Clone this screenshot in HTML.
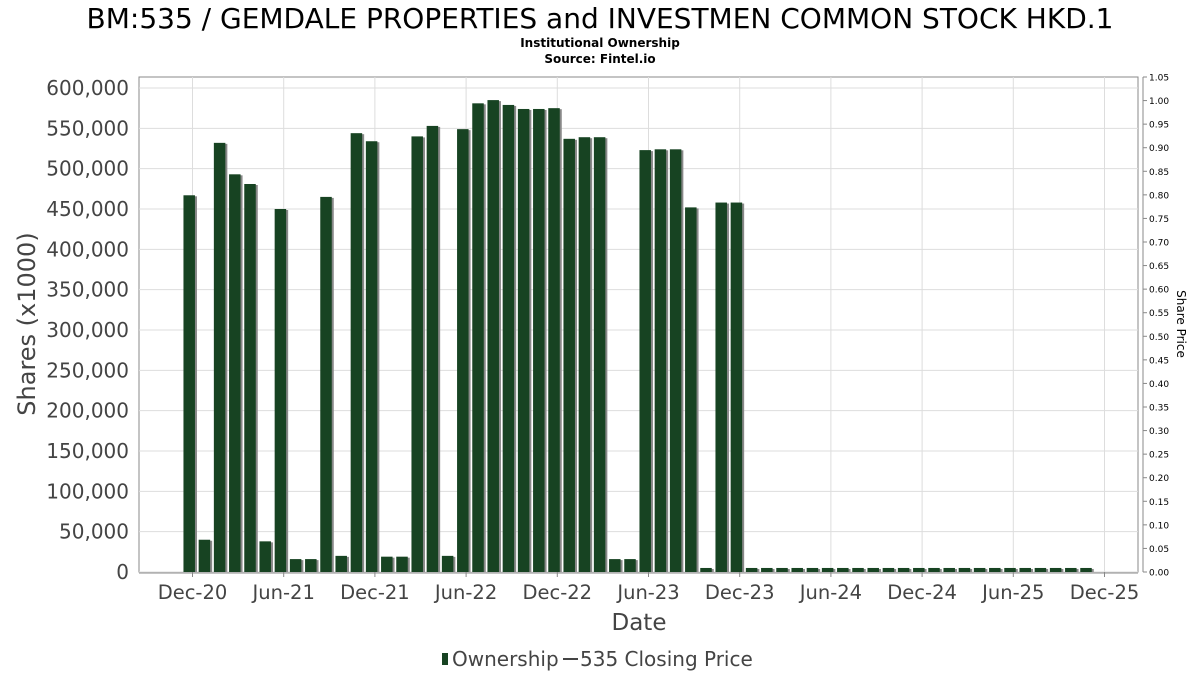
<!DOCTYPE html>
<html><head><meta charset="utf-8"><style>
body{margin:0;background:#fff;font-family:"DejaVu Sans","Liberation Sans",sans-serif;}
svg text{font-family:"DejaVu Sans","Liberation Sans",sans-serif;}
</style></head><body>
<svg id="chart" width="1200" height="675" xmlns="http://www.w3.org/2000/svg">
<text x="600" y="28" text-anchor="middle" font-size="28" fill="#000">BM:535 / GEMDALE PROPERTIES and INVESTMEN COMMON STOCK HKD.1</text>
<text x="600" y="47" text-anchor="middle" font-size="12" font-weight="bold" fill="#000">Institutional Ownership</text>
<text x="600" y="63" text-anchor="middle" font-size="12" font-weight="bold" fill="#000">Source: Fintel.io</text>
<g id="grid"></g><g id="bars"></g><g id="axes"></g>
<text transform="translate(35,324) rotate(-90)" text-anchor="middle" font-size="24" fill="#444">Shares (x1000)</text>
<text transform="translate(1177,324) rotate(90)" text-anchor="middle" font-size="12" fill="#000">Share Price</text>
<text x="639" y="630" text-anchor="middle" font-size="23" fill="#444">Date</text>
<g>
<rect x="442" y="653" width="6" height="12" fill="#174322"/>
<text x="452" y="666" font-size="20" fill="#444">Ownership</text>
<line x1="563" y1="659" x2="578" y2="659" stroke="#444" stroke-width="2"/>
<text x="580" y="666" font-size="20" fill="#444">535 Closing Price</text>
</g>
</svg>
<script>
const shares=[467,40,532,493,481,38,450,16,16,465,20,544,534,19,19,540,553,20,549,581,585,579,574,574,575,537,539,539,16,16,523,524,524,452,5,458,458,5,5,5,5,5,5,5,5,5,5,5,5,5,5,5,5,5,5,5,5,5,5,5];
const xTickLabels=["Dec-20","Jun-21","Dec-21","Jun-22","Dec-22","Jun-23","Dec-23","Jun-24","Dec-24","Jun-25","Dec-25"];
const yTicks=[0,50000,100000,150000,200000,250000,300000,350000,400000,450000,500000,550000,600000];
const y2Ticks=[0,0.05,0.1,0.15,0.2,0.25,0.3,0.35,0.4,0.45,0.5,0.55,0.6,0.65,0.7,0.75,0.8,0.85,0.9,0.95,1.0,1.05];
const NS="http://www.w3.org/2000/svg";
const L=139,R=1138,T=77,B=572;
function x(m){return 192.5+m*15.2;}
function y(v){return B-v*(B-88)/600000;}
function y2(v){return B-v*(B-T)/1.05;}
function mk(tag,a,p){const e=document.createElementNS(NS,tag);for(const k in a)e.setAttribute(k,a[k]);p.appendChild(e);return e;}
const grid=document.getElementById('grid'),bars=document.getElementById('bars'),axes=document.getElementById('axes');
mk('rect',{x:L,y:T,width:R-L,height:B-T,fill:'#fff',stroke:'#888'},grid);
yTicks.forEach(v=>{
 const g=mk('line',{x1:L,x2:R,y1:y(v),y2:y(v),stroke:'#ddd'},grid);
 
 
 const t=mk('text',{x:129,y:y(v)+7,'text-anchor':'end','font-size':'20',fill:'#444'},axes);
 t.textContent=v.toLocaleString('en-US');
 
 
});
xTickLabels.forEach((s,i)=>{
 const xx=x(i*6);
 const g=mk('line',{x1:xx,x2:xx,y1:T,y2:B,stroke:'#ddd'},grid);
 
 
 mk('line',{x1:xx,x2:xx,y1:B,y2:B+5,stroke:'#888'},axes);
 const t=mk('text',{x:xx,y:599,'text-anchor':'middle','font-size':'19.5',fill:'#444'},axes);
 t.textContent=s;
 
 
});
mk('line',{x1:1143,x2:1143,y1:T,y2:B,stroke:'#888'},axes);
y2Ticks.forEach(v=>{
 mk('line',{x1:1143,x2:1147,y1:y2(v),y2:y2(v),stroke:'#888'},axes);
 const t=mk('text',{x:1149,y:y2(v)+3.5,'font-size':'9',fill:'#000'},axes);
 t.textContent=v.toFixed(2);
 
 
});
mk('line',{x1:L,x2:R,y1:B+1,y2:B+1,stroke:'#888'},axes);
shares.forEach((v,i)=>{
 const cx=x(i-0.2), top=y(v*1000);
 const s=mk('rect',{x:cx-4.5,y:top+1,width:12,height:B-top-1,fill:'#888'},bars);
 
 
 const b=mk('rect',{x:cx-6,y:top,width:11.5,height:B-top,fill:'#174322'},bars);
 
 
});
</script>
</body></html>
